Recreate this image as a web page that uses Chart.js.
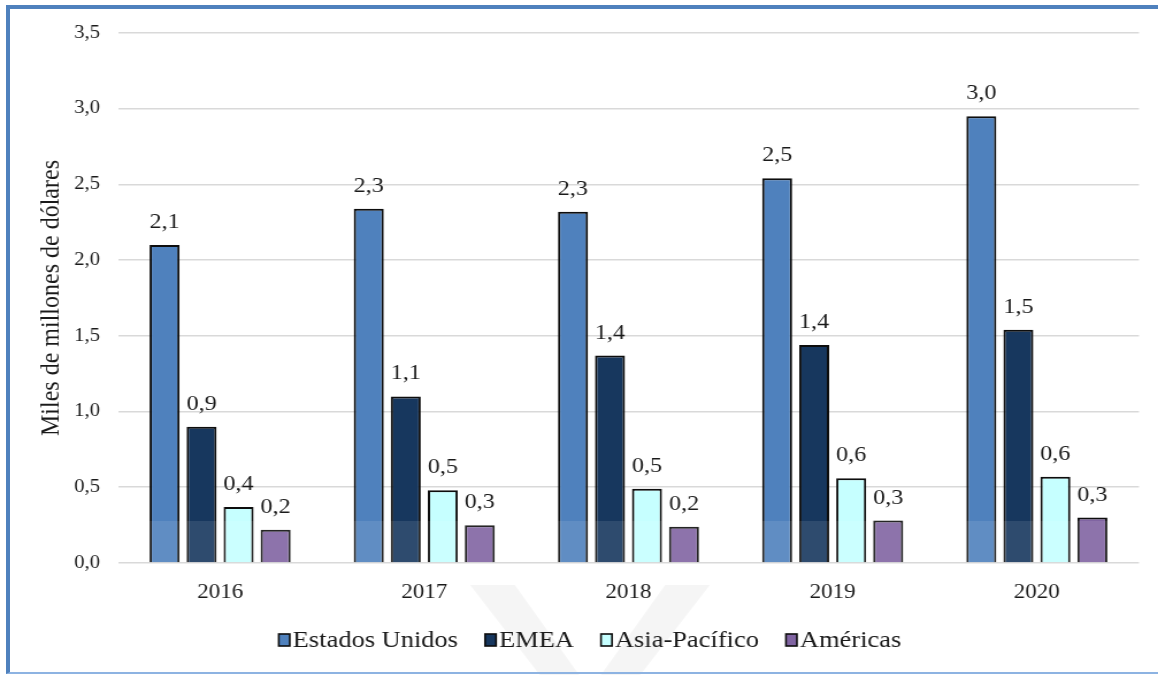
<!DOCTYPE html>
<html><head><meta charset="utf-8">
<script src="https://cdn.jsdelivr.net/npm/chart.js@4.4.1/dist/chart.umd.min.js"></script>
<style>
html,body{margin:0;padding:0;background:#fff;overflow:hidden;}
#wrap{position:relative;width:1158px;height:675px;overflow:hidden;background:#fff;}
#c{position:absolute;left:0;top:0;transform:scaleX(1.15);transform-origin:0 0;}
#frame{position:absolute;left:6px;top:5px;width:1160px;height:663px;border-top:4px solid #4f81bd;border-left:4px solid #4f81bd;border-bottom:2px solid #8db3e2;pointer-events:none;}
</style></head><body>
<div id="wrap"><canvas id="c" width="1007" height="675"></canvas><div id="frame"></div></div>
<script>
const SX = 1.15;
const years = ['2016', '2017', '2018', '2019', '2020'];
const seriesNames = ['Estados Unidos', 'EMEA', 'Asia-Pacífico', 'Américas'];
const estadosUnidos = [2.10, 2.34, 2.32, 2.54, 2.95];
const emea = [0.90, 1.10, 1.37, 1.44, 1.54];
const asiaPacifico = [0.37, 0.48, 0.49, 0.56, 0.57];
const americas = [0.22, 0.25, 0.24, 0.28, 0.30];
const yTicks = [0, 0.5, 1, 1.5, 2, 2.5, 3, 3.5];
const yTitle = 'Miles de millones de dólares';
const colors = ['#4f81bd', '#17375e', '#c6ffff', '#8064a2'];

const FONT = '"Liberation Serif", "Times New Roman", serif';
const fmt = v => v.toFixed(1).replace('.', ',');

const seriesValues = [estadosUnidos, emea, asiaPacifico, americas];
const datasets = seriesNames.map((name, i) => ({
  label: name,
  data: seriesValues[i],
  backgroundColor: colors[i],
  borderColor: '#0d0d0d',
  borderWidth: 2,
  categoryPercentage: 0.725,
  barPercentage: 0.81
}));

const watermark = {
  id: 'watermark',
  beforeDraw(chart) {
    const ctx = chart.ctx;
    ctx.save();
    ctx.fillStyle = 'rgba(0,0,0,0.04)';
    ctx.beginPath();
    ctx.moveTo(470 / SX, 585); ctx.lineTo(710 / SX, 585); ctx.lineTo(590 / SX, 740); ctx.closePath();
    ctx.moveTo(515 / SX, 585); ctx.lineTo(590 / SX, 690); ctx.lineTo(665 / SX, 585); ctx.closePath();
    ctx.fill('evenodd');
    ctx.restore();
  }
};

const barLabels = {
  id: 'barLabels',
  afterDatasetsDraw(chart) {
    const ctx = chart.ctx;
    ctx.save();
    ctx.fillStyle = 'rgba(255,255,255,0.1)';
    chart.data.datasets.forEach((ds, di) => {
      chart.getDatasetMeta(di).data.forEach(el => {
        const p = el.getProps(['x', 'y', 'base', 'width'], true);
        const top = Math.max(p.y, 521);
        if (top < p.base) ctx.fillRect(p.x - p.width / 2, top, p.width, p.base - top);
      });
    });
    ctx.fillStyle = '#1a1a1a';
    ctx.font = '21px ' + FONT;
    ctx.textAlign = 'center';
    ctx.textBaseline = 'alphabetic';
    chart.data.datasets.forEach((ds, di) => {
      chart.getDatasetMeta(di).data.forEach((el, i) => {
        const p = el.getProps(['x', 'y'], true);
        ctx.fillText(fmt(ds.data[i]), p.x, p.y - 17);
      });
    });
    ctx.restore();
  }
};

// legend drawn from the chart's datasets, laid out like the reference
const bottomLegend = {
  id: 'bottomLegend',
  afterDraw(chart) {
    const ctx = chart.ctx;
    ctx.save();
    ctx.font = '23px ' + FONT;
    ctx.textBaseline = 'middle';
    ctx.textAlign = 'left';
    const boxW = 11 / SX * 1.0, boxH = 12, gapText = 3 / SX, gapItem = 27 / SX;
    const items = chart.data.datasets.map(ds => ({ ds, w: ctx.measureText(ds.label).width }));
    const total = items.reduce((a, it) => a + boxW + gapText + it.w, 0) + gapItem * (items.length - 1);
    let x = 590 / SX - total / 2;
    const cy = 640;
    items.forEach(it => {
      ctx.fillStyle = it.ds.backgroundColor;
      ctx.fillRect(x, cy - boxH / 2, boxW, boxH);
      ctx.strokeStyle = '#0d0d0d';
      ctx.lineWidth = 1.6;
      ctx.strokeRect(x, cy - boxH / 2, boxW, boxH);
      x += boxW + gapText;
      ctx.fillStyle = '#1a1a1a';
      ctx.fillText(it.ds.label, x, cy + 1);
      x += it.w + gapItem;
    });
    ctx.restore();
  }
};

new Chart(document.getElementById('c'), {
  type: 'bar',
  data: { labels: years, datasets },
  options: {
    responsive: false,
    animation: false,
    devicePixelRatio: 1,
    layout: { padding: { left: 8, right: 16.6, top: 33, bottom: 68 } },
    plugins: {
      tooltip: { enabled: false },
      legend: { display: false }
    },
    scales: {
      x: {
        grid: { display: false },
        border: { display: false },
        ticks: { font: { family: FONT, size: 20 }, color: '#1a1a1a', padding: 10 },
        afterFit(s) { s.height = 44; }
      },
      y: {
        min: 0, max: 3.5,
        afterBuildTicks(s) { s.ticks = yTicks.map(v => ({ value: v })); },
        grid: { color: '#d9d9d9', lineWidth: 1.6, drawTicks: false },
        border: { display: false },
        ticks: { font: { family: FONT, size: 18 }, color: '#1a1a1a', padding: 15.6, callback: v => fmt(v) },
        title: { display: true, text: yTitle, font: { family: FONT, size: 24 }, color: '#1a1a1a', padding: { top: 22.8, bottom: 0 } },
        afterFit(s) { s.width = 94.6; }
      }
    }
  },
  plugins: [watermark, barLabels, bottomLegend]
});
</script>
</body></html>
